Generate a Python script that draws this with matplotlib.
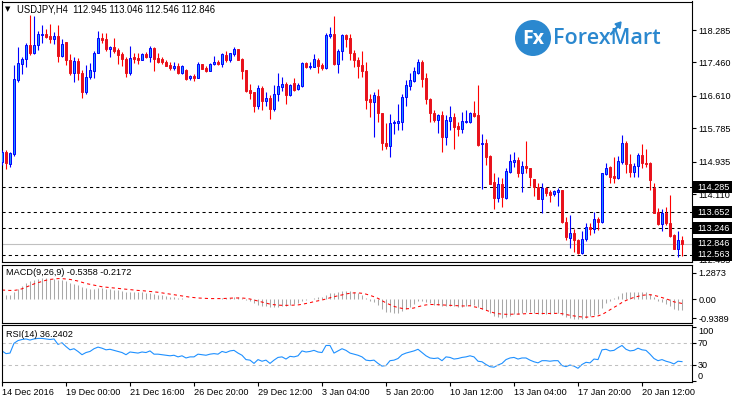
import matplotlib
matplotlib.use('Agg')
import matplotlib.pyplot as plt
import matplotlib.transforms as mtransforms
from matplotlib.patches import Rectangle, Ellipse
import numpy as np

# USDJPY H4 candles
opens = [
    114.94, 115.19, 114.88, 115.13, 117.01, 117.42, 117.54, 117.90, 117.71, 117.90,
    118.16, 118.18, 118.13, 118.05, 118.13, 117.63, 117.97, 117.52, 117.20, 117.50,
    117.18, 116.72, 117.08, 117.25, 117.69, 118.07, 118.05, 117.79, 117.85, 117.78,
    117.67, 117.54, 117.18, 117.59, 117.57, 117.52, 117.67, 117.61, 117.82, 117.57,
    117.54, 117.48, 117.40, 117.33, 117.37, 117.18, 117.27, 117.06, 117.12, 117.07,
    117.42, 117.31, 117.25, 117.41, 117.48, 117.41, 117.65, 117.52, 117.67, 117.80,
    117.55, 117.27, 116.76, 116.70, 116.34, 116.80, 116.49, 116.55, 116.28, 116.67,
    116.84, 116.91, 116.62, 116.93, 116.78, 116.86, 117.44, 117.34, 117.35, 117.52,
    117.40, 117.31, 118.14, 118.18, 117.42, 117.74, 118.16, 118.09, 117.71, 117.52,
    117.40, 117.24, 116.53, 116.46, 116.61, 116.17, 115.42, 115.34, 115.91, 115.93,
    115.95, 116.57, 116.87, 117.00, 117.20, 117.48, 117.06, 116.53, 116.17, 116.00,
    116.12, 115.57, 115.98, 116.06, 115.84, 115.76, 115.95, 115.95, 116.18, 116.12,
    115.38, 115.42, 115.09, 114.43, 114.02, 114.37, 114.02, 114.68, 114.94, 114.98,
    114.64, 114.83, 114.77, 114.49, 114.30, 113.99, 114.27, 114.17, 114.11, 114.16,
    114.21, 113.39, 113.00, 113.13, 112.94, 112.60, 112.96, 113.28, 113.21, 113.48,
    113.41, 114.62, 114.81, 114.58, 114.53, 114.94, 115.42, 114.88, 114.68, 114.83,
    115.11, 114.91, 114.89, 114.26, 113.66, 113.34, 113.64, 113.37, 113.07, 112.71,
    112.945]
highs = [
    115.23, 115.23, 115.17, 117.40, 117.86, 117.61, 117.96, 118.67, 118.64, 118.27,
    118.41, 118.30, 118.44, 118.24, 118.41, 118.05, 117.99, 117.68, 117.61, 117.57,
    117.27, 117.40, 117.44, 117.76, 118.27, 118.20, 118.22, 117.89, 118.07, 117.82,
    117.73, 117.61, 117.88, 117.71, 117.71, 117.69, 117.73, 117.88, 117.85, 117.69,
    117.61, 117.52, 117.48, 117.46, 117.44, 117.40, 117.29, 117.14, 117.17, 117.48,
    117.42, 117.37, 117.44, 117.62, 117.51, 117.71, 117.76, 117.71, 117.85, 117.80,
    117.58, 117.27, 116.91, 116.72, 116.89, 116.86, 116.72, 116.63, 116.89, 117.20,
    117.10, 116.97, 116.91, 117.06, 116.93, 117.48, 117.48, 117.46, 117.68, 117.57,
    117.44, 118.22, 118.37, 118.63, 117.79, 118.18, 118.18, 118.18, 117.78, 117.61,
    117.75, 117.46, 116.66, 116.72, 116.78, 116.18, 115.91, 116.15, 115.99, 116.40,
    116.67, 117.01, 117.18, 117.35, 117.55, 117.52, 117.18, 116.55, 116.25, 116.15,
    116.23, 116.12, 116.35, 116.18, 115.95, 116.21, 116.25, 116.21, 116.49, 116.89,
    115.64, 115.50, 115.11, 114.66, 114.55, 114.51, 114.77, 115.13, 115.19, 115.06,
    114.95, 115.46, 114.78, 114.49, 114.39, 114.39, 114.30, 114.22, 114.22, 114.27,
    114.21, 113.54, 113.58, 113.21, 112.96, 113.16, 113.37, 113.38, 113.65, 113.52,
    114.66, 114.89, 114.83, 115.06, 115.08, 115.61, 115.45, 115.13, 114.89, 115.15,
    115.39, 115.25, 114.94, 114.40, 113.75, 113.73, 113.79, 114.09, 113.10, 113.16,
    113.046]
lows = [
    114.85, 114.75, 114.81, 115.07, 116.97, 117.17, 117.35, 117.65, 117.67, 117.78,
    117.95, 118.07, 117.96, 117.93, 117.46, 117.59, 117.40, 117.14, 116.97, 117.01,
    116.55, 116.67, 117.03, 117.06, 117.69, 117.95, 117.76, 117.61, 117.69, 117.41,
    117.37, 117.10, 117.14, 117.44, 117.41, 117.51, 117.57, 117.48, 117.24, 117.44,
    117.42, 117.37, 117.27, 117.27, 117.17, 117.17, 117.01, 117.01, 117.00, 117.06,
    117.29, 117.21, 117.23, 117.40, 117.40, 117.35, 117.48, 117.48, 117.63, 117.52,
    117.03, 116.72, 116.52, 116.21, 116.28, 116.25, 116.34, 116.02, 116.23, 116.49,
    116.74, 116.40, 116.61, 116.73, 116.76, 116.84, 117.31, 117.29, 117.34, 117.18,
    117.27, 117.29, 118.07, 117.40, 117.20, 117.52, 117.86, 117.51, 117.35, 117.06,
    117.10, 116.28, 116.06, 115.57, 115.95, 115.22, 115.25, 115.06, 115.64, 115.74,
    115.73, 116.34, 116.76, 116.97, 117.17, 116.84, 116.40, 115.95, 115.95, 115.66,
    115.19, 115.36, 115.74, 115.27, 115.59, 115.66, 115.93, 115.93, 116.06, 115.34,
    114.23, 114.85, 114.37, 113.73, 113.90, 113.79, 113.99, 114.64, 114.81, 114.55,
    114.17, 114.64, 114.32, 114.06, 113.98, 113.62, 114.05, 113.92, 114.07, 113.81,
    113.37, 112.94, 112.73, 112.65, 112.59, 112.58, 112.93, 113.07, 113.13, 113.20,
    113.38, 114.60, 114.40, 114.40, 114.49, 114.88, 114.64, 114.55, 114.55, 114.55,
    114.77, 114.81, 114.22, 113.62, 113.33, 113.16, 113.33, 113.03, 112.71, 112.52,
    112.546]
closes = [
    115.17, 114.89, 115.15, 117.03, 117.44, 117.54, 117.90, 117.71, 117.90, 118.18,
    118.18, 118.12, 118.05, 118.13, 117.63, 117.93, 117.52, 117.20, 117.50, 117.18,
    116.72, 117.08, 117.27, 117.71, 118.07, 118.03, 117.79, 117.85, 117.76, 117.65,
    117.54, 117.18, 117.58, 117.56, 117.52, 117.67, 117.61, 117.82, 117.54, 117.48,
    117.46, 117.38, 117.33, 117.37, 117.18, 117.37, 117.03, 117.12, 117.07, 117.42,
    117.30, 117.25, 117.42, 117.47, 117.41, 117.67, 117.52, 117.69, 117.80, 117.52,
    117.25, 116.73, 116.69, 116.34, 116.80, 116.49, 116.55, 116.28, 116.67, 116.86,
    116.91, 116.62, 116.89, 116.76, 116.89, 117.44, 117.34, 117.37, 117.54, 117.38,
    117.33, 118.16, 118.18, 117.42, 117.76, 118.16, 118.05, 117.69, 117.51, 117.37,
    117.23, 116.51, 116.46, 116.63, 116.17, 115.40, 115.34, 115.91, 115.95, 115.97,
    116.57, 116.89, 117.01, 117.23, 117.48, 117.04, 116.52, 116.17, 116.00, 116.12,
    115.57, 116.00, 116.06, 115.83, 115.76, 115.97, 115.97, 116.18, 116.10, 115.36,
    115.42, 115.06, 114.38, 114.02, 114.37, 114.03, 114.70, 114.95, 114.98, 114.64,
    114.83, 114.77, 114.55, 114.30, 113.99, 114.26, 114.15, 114.09, 114.19, 114.21,
    113.39, 113.01, 113.13, 112.94, 112.60, 112.96, 113.28, 113.21, 113.47, 113.41,
    114.64, 114.77, 114.55, 114.53, 114.95, 115.40, 114.88, 114.68, 114.83, 115.11,
    114.89, 114.88, 114.47, 113.64, 113.34, 113.62, 113.37, 113.05, 112.71, 112.94,
    112.846]

# MACD(9,26,9): main (histogram) and signal
macd = [
    0.25, 0.22, 0.22, 0.35, 0.50, 0.65, 0.80, 0.90, 0.95, 1.00,
    1.02, 1.02, 1.00, 1.00, 0.95, 0.92, 0.88, 0.80, 0.75, 0.68,
    0.58, 0.52, 0.50, 0.50, 0.52, 0.52, 0.50, 0.48, 0.46, 0.43,
    0.40, 0.35, 0.35, 0.34, 0.32, 0.32, 0.30, 0.30, 0.26, 0.22,
    0.20, 0.16, 0.12, 0.10, 0.07, 0.06, 0.02, 0.00, -0.02, 0.00,
    0.00, -0.01, 0.00, 0.02, 0.02, 0.04, 0.05, 0.07, 0.09, 0.08,
    0.05, -0.05, -0.12, -0.22, -0.27, -0.32, -0.35, -0.40, -0.40, -0.37,
    -0.32, -0.32, -0.28, -0.25, -0.22, -0.10, -0.04, 0.00, 0.06, 0.08,
    0.08, 0.22, 0.30, 0.30, 0.33, 0.38, 0.40, 0.38, 0.33, 0.27,
    0.20, 0.05, -0.08, -0.15, -0.28, -0.50, -0.62, -0.65, -0.68, -0.68,
    -0.60, -0.48, -0.38, -0.25, -0.12, -0.10, -0.15, -0.22, -0.27, -0.30,
    -0.36, -0.35, -0.33, -0.36, -0.38, -0.37, -0.35, -0.30, -0.28, -0.38,
    -0.48, -0.55, -0.68, -0.85, -0.90, -0.95, -0.90, -0.82, -0.75, -0.72,
    -0.68, -0.65, -0.66, -0.68, -0.72, -0.72, -0.72, -0.72, -0.70, -0.68,
    -0.80, -0.90, -0.95, -0.98, -1.00, -0.98, -0.92, -0.85, -0.78, -0.72,
    -0.45, -0.22, -0.08, 0.05, 0.15, 0.30, 0.33, 0.32, 0.33, 0.36,
    0.36, 0.33, 0.25, 0.08, -0.08, -0.15, -0.25, -0.35, -0.50, -0.52,
    -0.5358]
signal = [
    0.44, 0.43, 0.42, 0.42, 0.45, 0.50, 0.58, 0.66, 0.74, 0.80,
    0.86, 0.92, 0.96, 0.98, 1.00, 1.00, 0.98, 0.96, 0.92, 0.88,
    0.82, 0.76, 0.72, 0.68, 0.64, 0.60, 0.58, 0.56, 0.54, 0.52,
    0.50, 0.48, 0.46, 0.44, 0.42, 0.41, 0.39, 0.37, 0.35, 0.33,
    0.30, 0.27, 0.24, 0.21, 0.18, 0.15, 0.12, 0.09, 0.07, 0.05,
    0.04, 0.03, 0.02, 0.02, 0.02, 0.02, 0.03, 0.04, 0.05, 0.05,
    0.05, 0.03, 0.00, -0.05, -0.10, -0.15, -0.20, -0.25, -0.28, -0.30,
    -0.31, -0.31, -0.31, -0.30, -0.29, -0.26, -0.22, -0.18, -0.13, -0.09,
    -0.05, 0.00, 0.06, 0.11, 0.16, 0.20, 0.25, 0.28, 0.30, 0.30,
    0.28, 0.24, 0.18, 0.11, 0.03, -0.08, -0.19, -0.28, -0.36, -0.42,
    -0.46, -0.48, -0.47, -0.44, -0.38, -0.33, -0.29, -0.27, -0.27, -0.28,
    -0.29, -0.30, -0.31, -0.32, -0.33, -0.34, -0.34, -0.33, -0.38, -0.42,
    -0.48, -0.55, -0.62, -0.68, -0.72, -0.74, -0.75, -0.75, -0.74, -0.74,
    -0.73, -0.72, -0.71, -0.71, -0.71, -0.71, -0.71, -0.71, -0.71, -0.70,
    -0.72, -0.76, -0.80, -0.83, -0.86, -0.88, -0.89, -0.88, -0.86, -0.83,
    -0.76, -0.65, -0.53, -0.41, -0.30, -0.17, -0.07, 0.01, 0.08, 0.13,
    0.18, 0.20, 0.21, 0.18, 0.13, 0.07, 0.01, -0.06, -0.14, -0.18,
    -0.2172]

# RSI(14)
rsi = [
    56, 51, 52, 70, 75, 77, 78, 76, 78, 79,
    79, 78, 77, 78, 68, 71, 64, 58, 60, 55,
    49, 53, 55, 60, 63, 61, 58, 59, 57, 55,
    53, 49, 54, 53, 52, 54, 53, 56, 50, 50,
    49, 48, 47, 48, 45, 47, 43, 45, 45, 50,
    49, 48, 50, 51, 50, 55, 53, 56, 57, 52,
    48, 40, 39, 33, 40, 37, 39, 33, 39, 44,
    45, 41, 46, 45, 47, 56, 54, 55, 57, 54,
    53, 66, 66, 52, 56, 60, 57, 52, 50, 48,
    45, 39, 38, 39, 33, 28, 29, 38, 39, 42,
    49, 52, 54, 56, 59, 53, 47, 43, 42, 43,
    38, 45, 44, 41, 42, 44, 45, 47, 45, 37,
    36, 31, 27, 26, 30, 33, 40, 43, 44, 41,
    43, 43, 39, 36, 34, 38, 38, 37, 38, 38,
    29, 27, 30, 28, 24, 31, 35, 34, 41, 40,
    58, 59, 56, 57, 62, 66, 59, 56, 57, 61,
    58, 57, 50, 42, 38, 40, 37, 35, 32, 37,
    36.2402]

price_ticks = [118.285, 117.460, 116.610, 115.785, 114.935, 114.110, 113.285, 112.435]
levels = [114.285, 113.652, 113.246, 112.563]
last_price = 112.846
date_labels = ['14 Dec 2016', '19 Dec 00:00', '21 Dec 16:00', '26 Dec 20:00', '29 Dec 12:00',
               '3 Jan 04:00', '5 Jan 20:00', '10 Jan 12:00', '13 Jan 04:00', '17 Jan 20:00',
               '20 Jan 12:00']
date_pos = [0, 16, 32, 48, 64, 80, 96, 112, 128, 144, 160]
macd_ticks = [1.2873, 0.0, -0.9389]
macd_tick_labels = ['1.2873', '0.00', '-0.9389']

plt.rcParams['font.family'] = ['Liberation Sans', 'DejaVu Sans']
plt.rcParams['font.size'] = 6.6

W, H = 732, 399
fig = plt.figure(figsize=(W / 100, H / 100), dpi=100)
fig.patch.set_facecolor('white')


def px_box(x0, y0, x1, y1):
    return [x0 / W, 1 - y1 / H, (x1 - x0) / W, (y1 - y0) / H]


ax = fig.add_axes(px_box(1.5, 1.5, 691.5, 262))
ax_m = fig.add_axes(px_box(1.5, 265, 691.5, 322.5))
ax_r = fig.add_axes(px_box(1.5, 325, 691.5, 381.7))

o, h, l, c = map(np.array, (opens, highs, lows, closes))
x = np.arange(len(c))
up = c >= o
dn = ~up

# candles
ax.vlines(x[up], l[up], h[up], color='#0000ff', lw=0.8, zorder=3)
ax.vlines(x[dn], l[dn], h[dn], color='#ff0000', lw=0.8, zorder=3)
ax.bar(x[up], c[up] - o[up], bottom=o[up], width=0.58, color='#1e90ff',
       edgecolor='#0000ff', lw=0.7, zorder=4)
ax.bar(x[dn], o[dn] - c[dn], bottom=c[dn], width=0.58, color='#e8111b',
       edgecolor='#e8111b', lw=0.7, zorder=4)

for lv in levels:
    ax.axhline(lv, color='black', lw=0.75, ls=(0, (3, 3)), zorder=2)
ax.axhline(last_price, color='#c0c0c0', lw=0.8, zorder=1)

ax.set_xlim(-0.125, 172.375)
ax.set_ylim(112.383, 119.011)
ax.set_xticks([])
ax.yaxis.tick_right()
ax.set_yticks(price_ticks)
ax.set_yticklabels(['%.3f' % t for t in price_ticks])

# boxed price labels on the scale (they sit on top of the plain tick labels)
trans = mtransforms.blended_transform_factory(fig.transFigure, ax.transData)
hh = 6.0 / (260.5 / (119.011 - 112.383))
for lv in levels + [last_price]:
    fig.add_artist(Rectangle((692 / W, lv - hh), 40 / W, 2 * hh, transform=trans,
                             facecolor='black', edgecolor='none', zorder=5))
    fig.text(697 / W, lv, '%.3f' % lv, transform=trans, color='white',
             va='center', ha='left', zorder=6)

# title
fig.text(5 / W, 1 - 9.5 / H, '\u25bc', fontsize=5, va='center', family=['DejaVu Sans'])
fig.text(17 / W, 1 - 9.5 / H,
         'USDJPY,H4  %.3f %.3f %.3f %.3f' % (opens[-1], highs[-1], lows[-1], closes[-1]),
         va='center', fontsize=6.85)

# logo
logo_blue = '#2b88cf'
fig.add_artist(Ellipse((533 / W, 1 - 38 / H), 36 / W, 36 / H, transform=fig.transFigure,
                       facecolor=logo_blue, edgecolor='none'))
fig.text(533 / W, 1 - 38.5 / H, 'Fx', color='white', fontsize=14, fontweight='bold',
         ha='center', va='center', family=['Open Sans', 'DejaVu Sans'])
fig.text(553 / W, 1 - 38.5 / H, 'ForexMart', color=logo_blue, fontsize=15.5,
         fontweight='semibold', ha='left', va='center', family=['Open Sans', 'DejaVu Sans'])
fig.add_artist(plt.Line2D([611 / W, 619 / W], [1 - 34 / H, 1 - 25 / H], color=logo_blue,
                          lw=1.6, transform=fig.transFigure))
fig.add_artist(plt.Polygon([[615 / W, 1 - 24 / H], [621 / W, 1 - 22 / H], [620 / W, 1 - 28.5 / H]],
                           closed=True, color=logo_blue, transform=fig.transFigure))

# MACD
ax_m.vlines(x, 0, macd, color='#a8a8a8', lw=0.75)
ax_m.plot(x, signal, color='#ff0000', lw=0.75, ls=(0, (3, 3)))
ax_m.set_xlim(ax.get_xlim())
ax_m.set_ylim(-1.152, 1.667)
ax_m.set_xticks([])
ax_m.yaxis.tick_right()
ax_m.set_yticks(macd_ticks)
ax_m.set_yticklabels(macd_tick_labels)
ax_m.text(0.006, 0.87, 'MACD(9,26,9) %.4f %.4f' % (macd[-1], signal[-1]),
          transform=ax_m.transAxes, va='center', ha='left')

# RSI
ax_r.plot(x, rsi, color='#1e90ff', lw=0.8)
for lv in (70, 30):
    ax_r.axhline(lv, color='#c0c0c0', lw=0.75, ls=(0, (3, 3)))
ax_r.set_xlim(ax.get_xlim())
ax_r.set_ylim(-0.7, 103.7)
ax_r.yaxis.tick_right()
ax_r.set_yticks([100, 70, 30, 0])
ax_r.set_yticklabels([])
rtrans = mtransforms.blended_transform_factory(ax_r.transAxes, ax_r.transData)
for val, va in ((100, 'top'), (70, 'center'), (30, 'center'), (0, 'bottom')):
    ax_r.text(1.0093, val, str(val), transform=rtrans, va=va, ha='left')
ax_r.text(0.006, 0.84, 'RSI(14) %.4f' % rsi[-1], transform=ax_r.transAxes,
          va='center', ha='left')
ax_r.set_xticks(date_pos)
ax_r.set_xticklabels(date_labels, ha='left')

for a in (ax, ax_m, ax_r):
    for s in a.spines.values():
        s.set_color('black')
        s.set_linewidth(0.8)
    a.tick_params(axis='y', direction='out', length=3, width=0.8, pad=2, labelsize=6.6)
    a.set_facecolor('white')
ax_r.tick_params(axis='x', direction='out', length=3, width=0.8, pad=1.5, labelsize=6.6)

fig.savefig('out.png', dpi=100)
